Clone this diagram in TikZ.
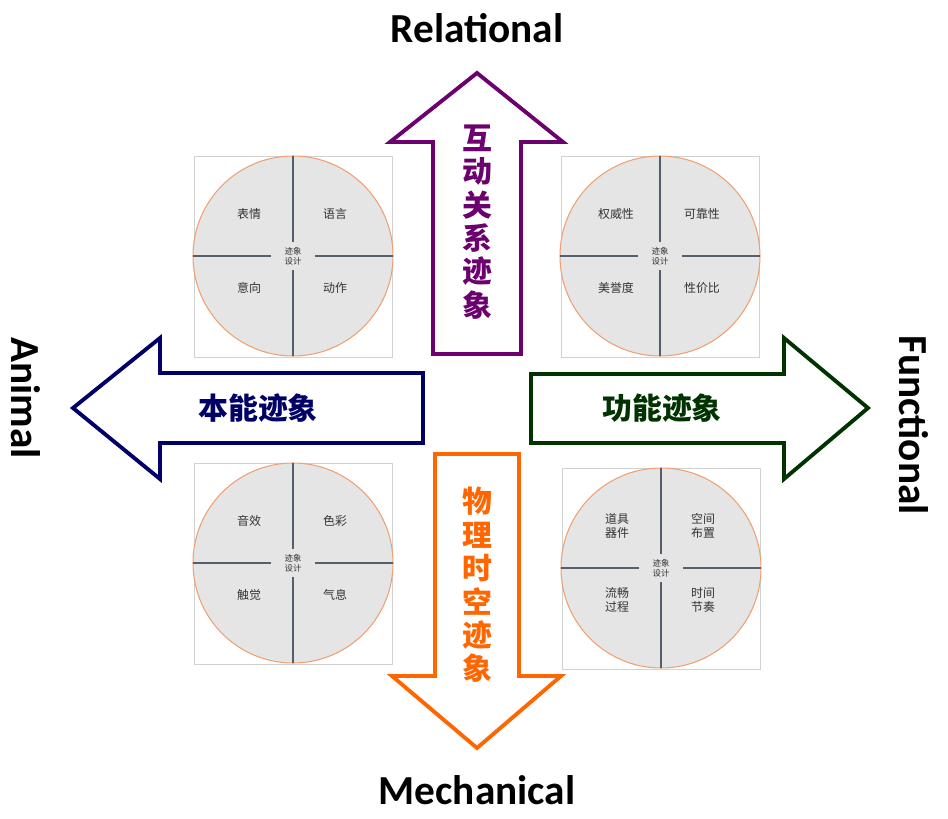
\documentclass[tikz,border=0pt]{standalone}
\usepackage{fontspec}
\setmainfont{Carlito}
\newfontfamily\cjk{Noto Sans CJK SC}
\usetikzlibrary{positioning}
\definecolor{relc}{HTML}{6B006E}
\definecolor{anic}{HTML}{000066}
\definecolor{func}{HTML}{003300}
\definecolor{mecc}{HTML}{FF6600}
\definecolor{ringc}{HTML}{F0A070}
\definecolor{axisc}{HTML}{55606E}

\tikzset{
  axis/.style={font=\bfseries\fontsize{23.5}{26}\selectfont},
  big arrow/.style={line width=2.2pt, fill=white, line join=miter},
  arrow text/.style={font=\cjk\fontsize{17}{19}\selectfont, align=center},
  part/.style={font=\cjk\fontsize{6.8}{8}\selectfont, text=black!80, align=center},
  core/.style={font=\cjk\fontsize{4.8}{5.5}\selectfont, text=black!80, align=center, inner sep=0pt},
}
% one quadrant wheel: #1 centre, #2..#5 labels
\newcommand\wheel[6]{%
  \draw[black!18, line width=0.4pt] ($(#1)+(-99,-100)$) rectangle ($(#1)+(99,101)$);
  \fill[black!10] (#1) circle (100);
  \draw[ringc, line width=0.6pt] (#1) circle (100);
  \draw[axisc, line width=1.2pt] ($(#1)+(0,-100)$) -- ($(#1)+(0,-14)$)
        ($(#1)+(0,14)$) -- ($(#1)+(0,100)$)
        ($(#1)+(-100,0)$) -- ($(#1)+(-22,0)$)
        ($(#1)+(22,0)$) -- ($(#1)+(100,0)$);
  \node[core] (#6c) at (#1) {迹象\\设计};
  \node[part] (#6a) at ($(#1)+(-44,-42)$) {#2};
  \node[part] (#6b) at ($(#1)+(42,-42)$) {#3};
  \node[part] (#6d) at ($(#1)+(-44,32)$) {#4};
  \node[part] (#6e) at ($(#1)+(42,32)$) {#5};
}
\usetikzlibrary{calc}

\begin{document}
\begin{tikzpicture}[x=0.02cm, y=-0.02cm]
\useasboundingbox (0,0) rectangle (948,819);

% arrows
\draw[big arrow, draw=relc] (433,354) -- (433,142) -- (390,142) -- (477,73) -- (563,142) -- (521,142) -- (521,354) -- cycle;
\draw[big arrow, draw=anic] (423,373) -- (160,373) -- (160,338) -- (73,408) -- (160,479) -- (160,443) -- (423,443) -- cycle;
\draw[big arrow, draw=func] (531,374) -- (784,374) -- (784,338) -- (868,408) -- (784,479) -- (784,443) -- (531,443) -- cycle;
\draw[big arrow, draw=mecc] (435,454) -- (519,454) -- (519,676) -- (561,676) -- (477,748) -- (392,676) -- (435,676) -- cycle;

\node[arrow text, text=relc] (rel) at (477,222) {\bfseries 互\\\bfseries 动\\\bfseries 关\\\bfseries 系\\\bfseries 迹\\\bfseries 象};
\node[arrow text, text=anic] (ani) at (258,408) {\bfseries 本能迹象};
\node[arrow text, text=func] (fun) at (662,408) {\bfseries 功能迹象};
\node[arrow text, text=mecc] (mec) at (477,585) {\bfseries 物\\\bfseries 理\\\bfseries 时\\\bfseries 空\\\bfseries 迹\\\bfseries 象};

% axis titles
\node[axis] (relational) at (477,28) {Relational};
\node[axis] (mechanical) at (477,790) {Mechanical};
\node[axis, rotate=-90] (animal) at (26,398) {Animal};
\node[axis, rotate=-90] (functional) at (914,425) {Functional};

% wheels
\coordinate (tl) at (293,256);
\coordinate (tr) at (660,256);
\coordinate (bl) at (293,563);
\coordinate (br) at (661,568);
\wheel{tl}{表情}{语言}{意向}{动作}{tl}
\wheel{tr}{权威性}{可靠性}{美誉度}{性价比}{tr}
\wheel{bl}{音效}{色彩}{触觉}{气息}{bl}
\wheel{br}{道具\\器件}{空间\\布置}{流畅\\过程}{时间\\节奏}{br}
\end{tikzpicture}
\end{document}
